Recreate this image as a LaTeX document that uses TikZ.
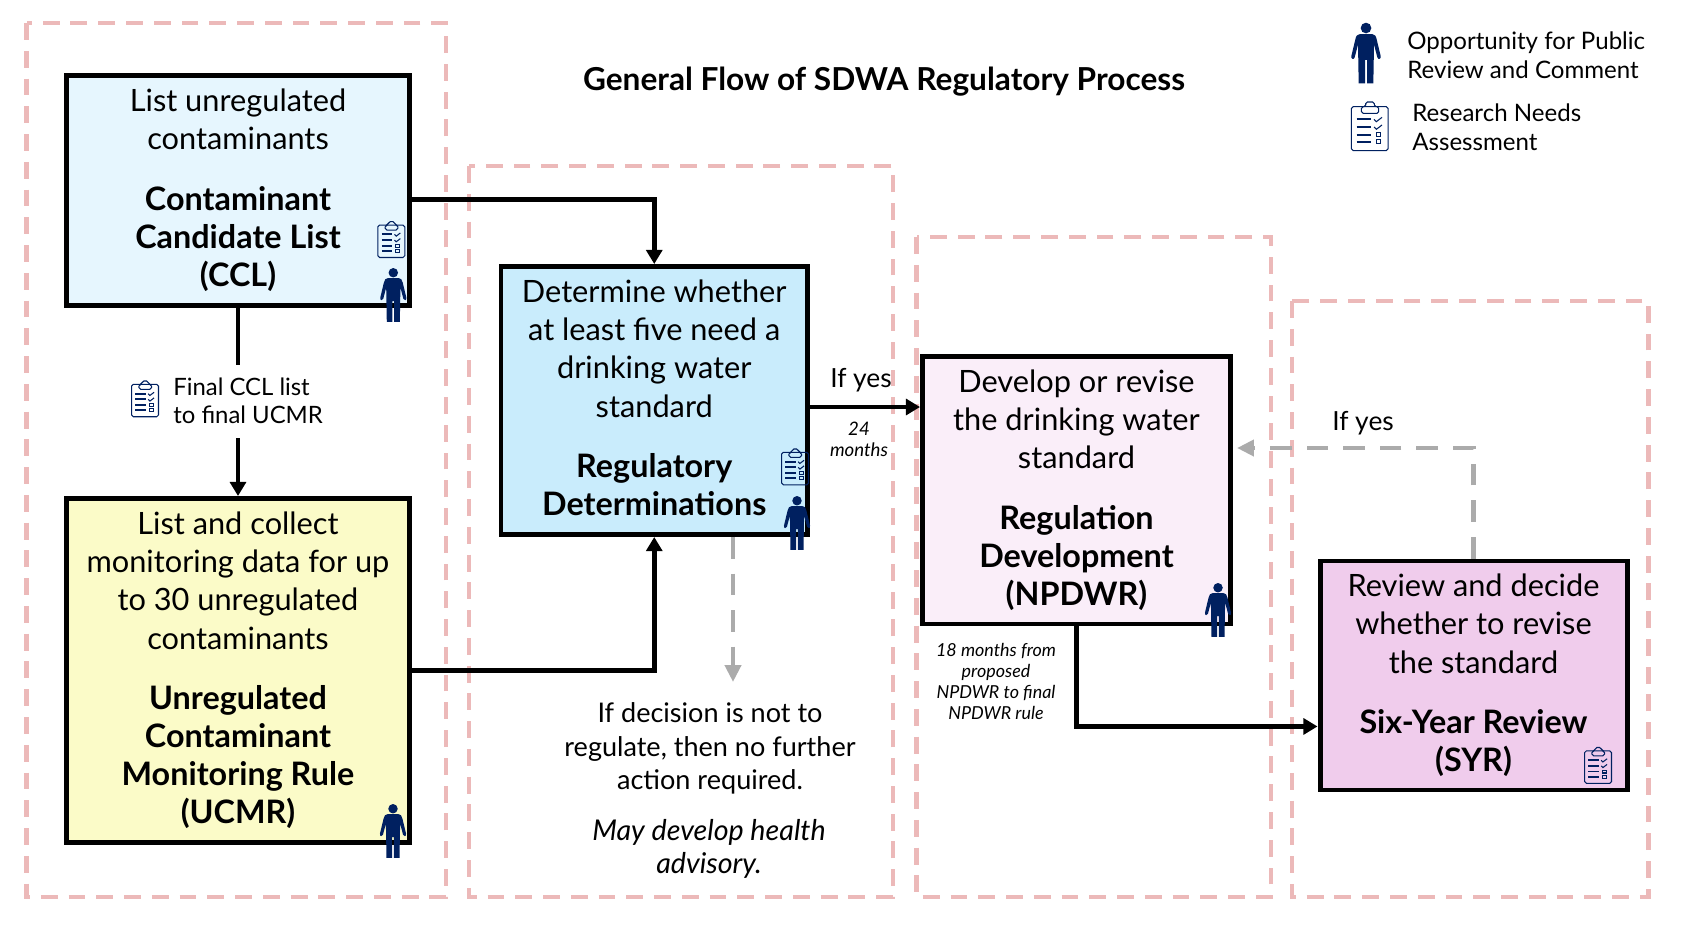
\documentclass[tikz,border=0pt]{standalone}
\usepackage{fontspec}
\setmainfont{Lato}
\usepackage{tikz}
\usetikzlibrary{arrows.meta}
\definecolor{zonepink}{HTML}{ECB9B9}
\definecolor{navy}{HTML}{002060}
\definecolor{flowgrey}{HTML}{ABABAB}
\tikzset{
	zone/.style     = {draw=zonepink, line width=2.7pt, dash pattern=on 9.6pt off 6.2pt},
	block/.style    = {draw, line width=2.83pt, minimum width=342.5*0.02cm, align=center, inner sep=0pt,
		font=\fontsize{17.5}{21.7}\selectfont},
	flow/.style     = {-{Triangle[length=8pt,width=9pt]}, line width=2.8pt},
	back/.style     = {-{Triangle[length=9.6pt,width=9pt]}, draw=flowgrey, line width=2.8pt, dash pattern=on 12.3pt off 8.5pt},
	note/.style     = {align=center, font=\fontsize{15.4}{19.2}\selectfont},
	small/.style    = {align=center, font=\fontsize{10.2}{11.9}\selectfont\itshape},
	legend/.style   = {align=left, anchor=west, inner sep=0pt, font=\fontsize{13.7}{16.5}\selectfont},
	person/.pic     = {
		\fill[navy] (0,16) circle [radius=16];
		\fill[navy] (-18,34) -- (18,34) .. controls (26,34) and (30,40) .. (32,50) -- (44,100)
			.. controls (46,110) and (36,112) .. (34,104) -- (24,66) -- (22,182) -- (3,182) -- (3,112)
			-- (-3,112) -- (-3,182) -- (-22,182) -- (-24,66) -- (-34,104)
			.. controls (-36,112) and (-46,110) .. (-44,100) -- (-32,50)
			.. controls (-30,40) and (-26,34) .. (-18,34) -- cycle;
	},
	clipboard/.pic  = {
		\draw[navy, line width=0.6pt, rounded corners=1pt] (-55,14) rectangle (55,146);
		\draw[navy, line width=0.6pt, rounded corners=1pt] (-25,34) -- (-25,14) -- (-12,14) -- (-12,0) -- (14,0) -- (14,14) -- (27,14) -- (27,34) -- cycle;
		\foreach \rowy in {52,75,98,120}
			\draw[navy, line width=1.1pt] (-39,\rowy) -- (3,\rowy);
		\foreach \rowy in {52,75}
			\draw[navy, line width=0.6pt] (13,\rowy) -- (20,\rowy+7) -- (37,\rowy-6);
		\foreach \rowy in {98,120}
			\draw[navy, line width=0.6pt] (19,\rowy-6) rectangle (33,\rowy+6);
	}
}
\newcommand{\gapline}{\\[12.7pt]}
\newcommand{\hd}[1]{{\fontsize{18.4}{21.7}\selectfont\bfseries #1}}

\begin{document}
\begin{tikzpicture}[x=0.02cm, y=-0.02cm]
\useasboundingbox (0,0) rectangle (1683,940);

% Dashed zones behind everything
\draw[zone] (26.5,23) rectangle (446,897);
\draw[zone] (469,166) rectangle (893,897);
\draw[zone] (916.5,237) rectangle (1271,897);
\draw[zone] (1292,301) rectangle (1648.5,897);

% Drawing the blocks
\draw
node at (238,190.5)[block, fill={rgb,255:red,230;green,246;blue,254}, minimum height=229.5*0.02cm] (ccl)
	{List unregulated\\contaminants\gapline\hd{Contaminant}\\\hd{Candidate List}\\\hd{(CCL)}}
node at (238,670.5)[block, fill={rgb,255:red,251;green,251;blue,200}, minimum height=344*0.02cm] (ucmr)
	{List and collect\\monitoring data for up\\to 30 unregulated\\contaminants\gapline\hd{Unregulated}\\\hd{Contaminant}\\\hd{Monitoring Rule}\\\hd{(UCMR)}}
node at (654.25,400.5)[block, fill={rgb,255:red,201;green,236;blue,252}, minimum width=306.5*0.02cm, minimum height=268*0.02cm] (regdet)
	{Determine whether\\at least five need a\\drinking water\\standard\gapline\hd{Regulatory}\\\hd{Determinations\rule[-3pt]{0pt}{0pt}}}
node at (1076.5,490.25)[block, fill={rgb,255:red,250;green,238;blue,249}, minimum width=308*0.02cm, minimum height=267.5*0.02cm] (npdwr)
	{Develop or revise\\the drinking water\\standard\gapline\hd{Regulation}\\\hd{Development}\\\hd{(NPDWR)}}
node at (1473.5,675.5)[block, fill={rgb,255:red,240;green,204;blue,236}, minimum width=307*0.02cm, minimum height=229*0.02cm] (syr)
	{Review and decide\\whether to revise\\the standard\gapline\hd{Six-Year Review}\\\hd{(SYR)}};

% Title and labels
\draw
node at (884,82) [font=\fontsize{18}{21}\selectfont\bfseries] (title) {General Flow of SDWA Regulatory Process}
node at (173,401) [legend, font=\fontsize{13.6}{16}\selectfont] (finallist) {Final CCL list\\to final UCMR}
node at (861,380) [note, font=\fontsize{15}{18}\selectfont] (ifyes1) {If yes}
node at (859,439.5) [small, font=\fontsize{10.6}{11.9}\selectfont\itshape] (months24) {24\\months}
node at (1363,423) [note, font=\fontsize{15}{18}\selectfont] (ifyes2) {If yes}
node at (996,681.5) [small] (months18) {18 months from\\proposed\\NPDWR to final\\NPDWR rule}
node at (710,748.5) [note] (nofurther) {If decision is not to\\regulate, then no further\\action required.}
node at (709,849) [note, font=\fontsize{16.3}{19}\selectfont\itshape] (advisory) {May develop health\\advisory.}
node at (1407,55) [legend] (legpublic) {Opportunity for Public\\Review and Comment}
node at (1412,127) [legend] (legresearch) {Research Needs\\Assessment};

% Free ends of the connectors
\coordinate (ccldown) at (238,365);
\coordinate (ucmrup) at (238,438);
\coordinate (nofurthertip) at (733,682);
\coordinate (backtip) at (1237,448);

% Connectors
\draw[flow] ([yshift=-5pt]ccl.east) -| (regdet.north);
\draw[flow] (ucmr.east) -| (regdet.south);
\draw[flow, -] (ccl.south) -- (ccldown);
\draw[flow] (ucmrup) -- (ucmr.north);
\draw[flow] ([yshift=-3.7pt]regdet.east) -- ([yshift=-3.7pt]regdet.east -| npdwr.west);
\draw[flow] (npdwr.south) |- ([yshift=-29pt]syr.west);
\draw[back] (nofurthertip |- regdet.south) -- (nofurthertip);
\draw[back] (syr.north) |- (backtip);

% Icons
\pic[scale=0.245] at (391.3,221.7) {clipboard};
\pic[scale=0.296] at (393.3,268) {person};
\pic[scale=0.296] at (393,804) {person};
\pic[scale=0.245] at (795,449) {clipboard};
\pic[scale=0.296] at (797,496) {person};
\pic[scale=0.296] at (1218,583) {person};
\pic[scale=0.245] at (1598,747.5) {clipboard};
\pic[scale=0.245] at (145,381) {clipboard};
\pic[scale=0.333] at (1366,22.7) {person};
\pic[scale=0.333] at (1369.7,102) {clipboard};
\end{tikzpicture}
\end{document}
